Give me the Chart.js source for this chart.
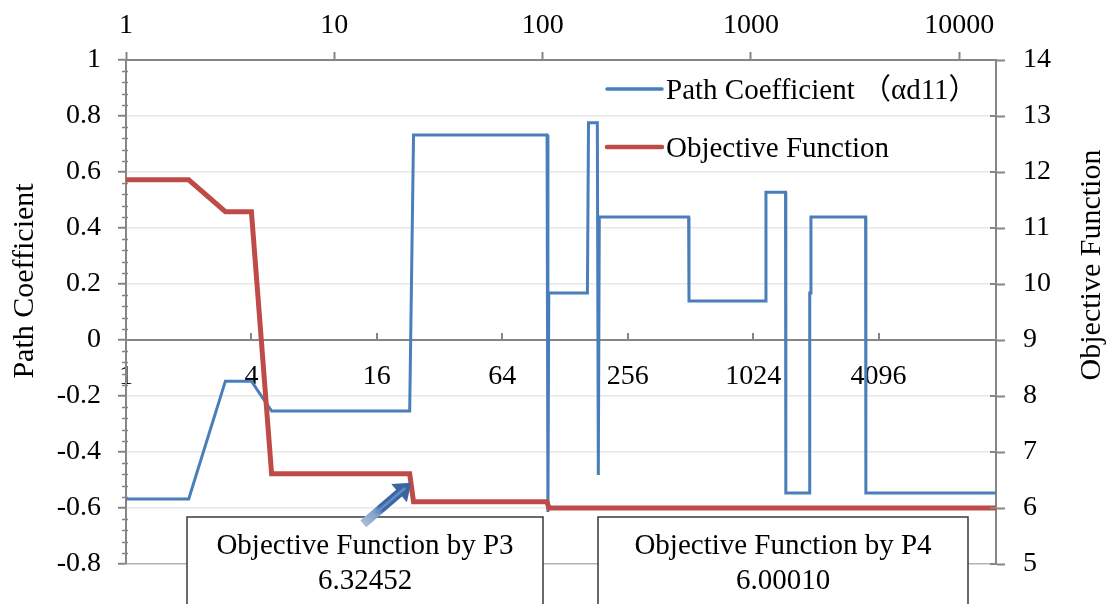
<!DOCTYPE html>
<html>
<head>
<meta charset="utf-8">
<title>Path Coefficient and Objective Function</title>
<script src="https://cdn.jsdelivr.net/npm/chart.js@4.4.1/dist/chart.umd.min.js"></script>
<style>
  html, body { margin: 0; padding: 0; background: #fff; }
  #wrap { width: 1109px; height: 604px; }
</style>
</head>
<body>
<div id="wrap"><canvas id="chart" width="1109" height="604"></canvas></div>
<script>
// Values (iteration counts on a log axis)
const pathIter = [1, 2, 3, 4, 5, 23, 24, 105, 106, 107, 164, 166, 183, 185, 187,
                  502, 504, 1175, 1180, 1465, 1470, 1912, 1914, 1935, 1940, 3550, 3560, 15000];
const pathCoef = [-0.568, -0.568, -0.147, -0.147, -0.254, -0.254, 0.732, 0.732, -0.614, 0.168, 0.168, 0.776, 0.776, -0.482, 0.439,
                  0.439, 0.139, 0.139, 0.528, 0.528, -0.546, -0.546, 0.168, 0.168, 0.439, 0.439, -0.546, -0.546];

const objIter = [1, 2, 3, 4, 5, 23, 24, 105, 107, 15000];
const objValue = [11.86, 11.86, 11.29, 11.29, 6.61, 6.61, 6.11, 6.11, 6.0, 6.0];

const seriesLabels = ['Path Coefficient （αd11）', 'Objective Function'];

// axis ticks
const topTicks = [1, 10, 100, 1000, 10000];
const zeroLineTicks = [1, 4, 16, 64, 256, 1024, 4096];
const iterMin = 1;
const iterMax = 15000;

// annotation boxes
const noteP3 = ['Objective Function by P3', '6.32452'];
const noteP4 = ['Objective Function by P4', '6.00010'];
const arrowTarget = { iter: 23.4, obj: 6.45 };

const SERIF = '"Liberation Serif", "Times New Roman", "Noto Sans CJK JP", serif';
const AXIS = '#868686';
const GRID = '#e8e8e8';
const BLUE = '#4a7ebb';
const RED = '#be4b48';

Chart.defaults.font.family = SERIF;
Chart.defaults.color = '#000';

function toPoints(xs, ys) {
    return xs.map((x, i) => ({ x: x, y: ys[i] }));
}

function fixedTicks(list) {
    return scale => {
        scale.ticks = list.map(v => ({ value: v }));
    };
}

function drawArrow(ctx, x0, y0, x1, y1) {
    const len = Math.hypot(x1 - x0, y1 - y0);
    const ux = (x1 - x0) / len, uy = (y1 - y0) / len;
    const nx = -uy, ny = ux;
    const shaft = 4.5, head = 12, headLen = 16;
    const bx = x1 - ux * headLen, by = y1 - uy * headLen;

    const grad = ctx.createLinearGradient(x0, y0, x1, y1);
    grad.addColorStop(0, '#a9bdd8');
    grad.addColorStop(0.28, '#7f9dc6');
    grad.addColorStop(0.38, '#3d68a3');
    grad.addColorStop(1, '#3a64a0');

    ctx.beginPath();
    ctx.moveTo(x0 + nx * shaft, y0 + ny * shaft);
    ctx.lineTo(bx + nx * shaft, by + ny * shaft);
    ctx.lineTo(bx + nx * head, by + ny * head);
    ctx.lineTo(x1, y1);
    ctx.lineTo(bx - nx * head, by - ny * head);
    ctx.lineTo(bx - nx * shaft, by - ny * shaft);
    ctx.lineTo(x0 - nx * shaft, y0 - ny * shaft);
    ctx.closePath();
    ctx.fillStyle = grad;
    ctx.fill();

    // lighter stripe along the middle of the shaft
    ctx.beginPath();
    ctx.moveTo(x0 + ux * 16, y0 + uy * 16);
    ctx.lineTo(x1 - ux * 8, y1 - uy * 8);
    ctx.strokeStyle = 'rgba(100, 145, 210, 0.9)';
    ctx.lineWidth = 2.5;
    ctx.stroke();
}

function drawNote(ctx, left, right, top, lines) {
    ctx.fillStyle = '#fff';
    ctx.fillRect(left, top, right - left, 120);
    ctx.strokeStyle = '#3a3a3a';
    ctx.lineWidth = 1.5;
    ctx.strokeRect(left, top, right - left, 120);
    ctx.fillStyle = '#000';
    ctx.font = '29px ' + SERIF;
    ctx.textAlign = 'center';
    ctx.textBaseline = 'alphabetic';
    const cx = (left + right) / 2;
    ctx.fillText(lines[0], cx, top + 37);
    ctx.fillText(lines[1], cx, top + 72);
}

// minor ticks, inner tick halves, titles, legend and notes
const decorPlugin = {
    id: 'decor',
    afterDraw(chart) {
        const { ctx, chartArea: area, scales } = chart;
        const sx = scales.x, sy = scales.y, sy2 = scales.y2;
        ctx.save();

        ctx.strokeStyle = AXIS;
        ctx.lineWidth = 1.5;
        // minor ticks on the left axis
        for (let i = 0; i <= 45; i++) {
            if (i % 5 === 0) continue;
            const py = Math.round(sy.getPixelForValue(-0.8 + i * 0.04)) + 0.5;
            ctx.beginPath();
            ctx.moveTo(area.left - 4, py);
            ctx.lineTo(area.left + 2, py);
            ctx.stroke();
        }
        // right axis ticks cross the axis line
        ctx.lineWidth = 2;
        for (let v = 5; v <= 14; v++) {
            const py = Math.round(sy2.getPixelForValue(v));
            ctx.beginPath();
            ctx.moveTo(area.right - 6, py);
            ctx.lineTo(area.right, py);
            ctx.stroke();
        }
        // tick marks of the axis through zero point upward
        const y0 = Math.round(sy.getPixelForValue(0));
        zeroLineTicks.forEach(v => {
            const px = Math.round(scales.x2.getPixelForValue(v));
            ctx.beginPath();
            ctx.moveTo(px, y0);
            ctx.lineTo(px, y0 - 7);
            ctx.stroke();
        });

        // axis titles
        ctx.fillStyle = '#000';
        ctx.font = '30px ' + SERIF;
        ctx.textAlign = 'center';
        ctx.textBaseline = 'alphabetic';
        ctx.save();
        ctx.translate(33, 281);
        ctx.rotate(-Math.PI / 2);
        ctx.fillText('Path Coefficient', 0, 0);
        ctx.restore();
        ctx.save();
        ctx.translate(1100, 265);
        ctx.rotate(-Math.PI / 2);
        ctx.fillText('Objective Function', 0, 0);
        ctx.restore();

        // legend
        const rows = [{ ds: 0, y: 89, base: 99, w: 3.5 }, { ds: 1, y: 147, base: 157, w: 4.5 }];
        ctx.font = '29px ' + SERIF;
        ctx.textAlign = 'left';
        rows.forEach(r => {
            const ds = chart.data.datasets[r.ds];
            ctx.beginPath();
            ctx.moveTo(607, r.y);
            ctx.lineTo(662, r.y);
            ctx.strokeStyle = ds.borderColor;
            ctx.lineWidth = r.w;
            ctx.lineCap = 'round';
            ctx.stroke();
            ctx.fillStyle = '#000';
            ctx.fillText(ds.label, 666, r.base);
        });
        ctx.lineCap = 'butt';

        // annotation boxes and arrow
        drawNote(ctx, 187, 543, 517, noteP3);
        drawNote(ctx, 598, 968, 517, noteP4);
        const tipX = sx.getPixelForValue(arrowTarget.iter);
        const tipY = sy2.getPixelForValue(arrowTarget.obj);
        drawArrow(ctx, tipX - 48, tipY + 41, tipX, tipY);

        ctx.restore();
    }
};

new Chart(document.getElementById('chart'), {
    type: 'line',
    data: {
        datasets: [
            {
                label: seriesLabels[0],
                data: toPoints(pathIter, pathCoef),
                borderColor: BLUE,
                borderWidth: 3,
                pointRadius: 0,
                tension: 0,
                yAxisID: 'y',
                xAxisID: 'x',
                order: 1
            },
            {
                label: seriesLabels[1],
                data: toPoints(objIter, objValue),
                borderColor: RED,
                borderWidth: 5,
                pointRadius: 0,
                tension: 0,
                yAxisID: 'y2',
                xAxisID: 'x',
                order: 0
            }
        ]
    },
    options: {
        responsive: false,
        animation: false,
        devicePixelRatio: 1,
        layout: { padding: { left: 0, right: 0, top: 0, bottom: 40 } },
        plugins: {
            legend: { display: false },
            tooltip: { enabled: false },
            title: { display: false }
        },
        scales: {
            x: {
                type: 'logarithmic',
                position: 'top',
                min: iterMin,
                max: iterMax,
                afterBuildTicks: fixedTicks(topTicks),
                afterFit: s => { s.height = 60; },
                ticks: {
                    font: { size: 28 },
                    padding: 10,
                    autoSkip: false,
                    maxRotation: 0,
                    minRotation: 0,
                    callback: v => String(v)
                },
                grid: { drawOnChartArea: false, tickLength: 8, tickColor: AXIS, tickWidth: 2 },
                border: { color: AXIS, width: 2 }
            },
            x2: {
                type: 'logarithmic',
                position: { y: 0 },
                min: iterMin,
                max: iterMax,
                afterBuildTicks: fixedTicks(zeroLineTicks),
                ticks: {
                    font: { size: 28 },
                    padding: 12,
                    autoSkip: false,
                    maxRotation: 0,
                    minRotation: 0,
                    callback: v => String(v)
                },
                grid: { drawOnChartArea: false, tickLength: 8, tickColor: 'transparent' },
                border: { color: AXIS, width: 2 }
            },
            y: {
                position: 'left',
                min: -0.8,
                max: 1,
                afterFit: s => { s.width = 126; },
                ticks: {
                    stepSize: 0.2,
                    font: { size: 28 },
                    padding: 17,
                    callback: v => {
                        const r = Math.round(v * 10) / 10;
                        return r === 0 ? '0' : String(r);
                    }
                },
                grid: {
                    color: c => {
                        const v = c.tick.value;
                        if (Math.abs(v) < 1e-9 || Math.abs(v - 1) < 1e-9) return AXIS;
                        if (Math.abs(v + 0.8) < 1e-9) return '#b4b4b4';
                        return GRID;
                    },
                    lineWidth: 1.5,
                    tickLength: 8,
                    tickColor: AXIS,
                    tickWidth: 2
                },
                border: { color: AXIS, width: 2 }
            },
            y2: {
                position: 'right',
                min: 5,
                max: 14,
                afterFit: s => { s.width = 113; },
                ticks: {
                    stepSize: 1,
                    font: { size: 28 },
                    padding: 18
                },
                grid: { drawOnChartArea: false, tickLength: 9, tickColor: AXIS, tickWidth: 2 },
                border: { color: AXIS, width: 2 }
            }
        }
    },
    plugins: [decorPlugin]
});
</script>
</body>
</html>
